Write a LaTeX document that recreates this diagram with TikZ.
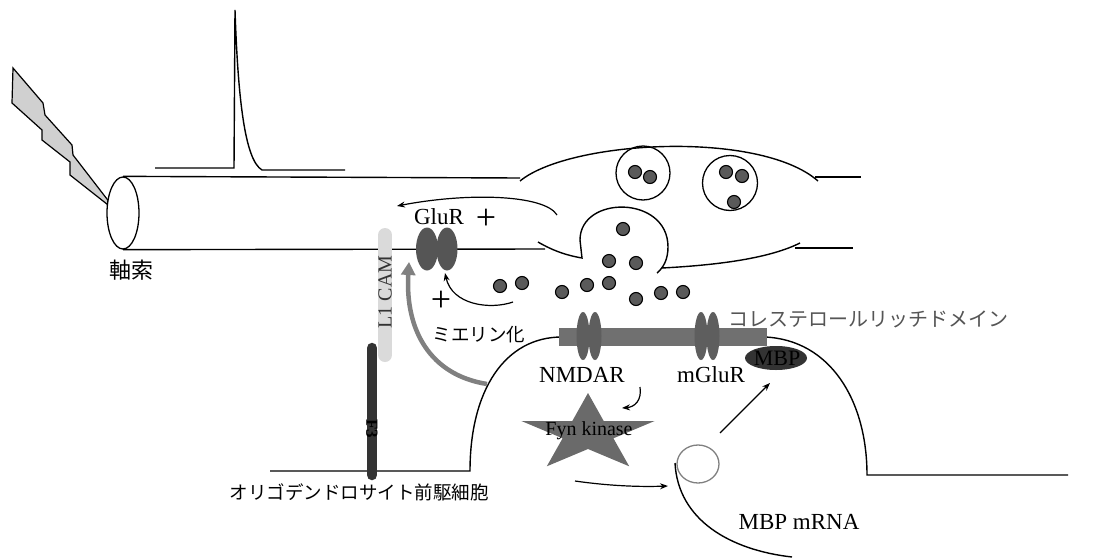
\documentclass[tikz,border=0pt]{standalone}
\usepackage{fontspec}
\usepackage{graphicx}
\setmainfont{Liberation Serif}
\newfontfamily\jpfont{Noto Sans CJK JP}
\usetikzlibrary{arrows.meta,shapes.geometric}

\definecolor{boltfill}{HTML}{D0D0D0}
\definecolor{raftgray}{HTML}{707070}
\definecolor{recgray}{HTML}{5E5E5E}
\definecolor{glurgray}{HTML}{555555}
\definecolor{darkgray}{HTML}{333333}
\definecolor{lightbar}{HTML}{DADADA}
\definecolor{dotgray}{HTML}{5A5A5A}
\definecolor{stargray}{HTML}{6A6A6A}
\definecolor{arrowgray}{HTML}{808080}
\definecolor{textgray}{HTML}{555555}

\begin{document}
\begin{tikzpicture}[x=1pt, y=-1pt, line width=1.3pt,
  membrane/.style={draw=black, line width=1.4pt},
  thinarrow/.style={draw=black, line width=1.2pt, -{Stealth[length=8pt,width=6pt]}},
  transmitter/.style={circle, draw=black, line width=1.1pt, fill=dotgray, minimum size=13pt, inner sep=0pt},
  receptor/.style={ellipse, fill=recgray, minimum width=13pt, minimum height=48pt, inner sep=0pt},
  label/.style={font=\fontsize{23}{25}\selectfont, inner sep=0pt},
  jplabel/.style={font=\jpfont\fontsize{18.5}{20}\selectfont, inner sep=0pt},
  plussign/.style={font=\fontsize{36}{36}\selectfont, inner sep=0pt}]
\useasboundingbox (0,0) rectangle (1095,557);

% stimulating electrode (lightning bolt)
\filldraw[fill=boltfill, draw=black, line width=1.2pt, line join=miter]
  (13,68) -- (43,103) -- (45,115) -- (72,145) -- (73,155) -- (117,212)
  -- (70,175) -- (70,162) -- (42,140) -- (42,130) -- (12,103) -- cycle;

% recorded action potential
\draw[line width=1.4pt] (155,168) -- (234,168) -- (235,10)
  .. controls (238,100) and (245,160) .. (262,170) -- (345,170);

% axon cylinder
\node[ellipse, draw=black, line width=1.3pt, fill=white, minimum width=32pt, minimum height=72pt, inner sep=0pt] (axonend) at (123,213) {};
\draw[membrane] (axonend.north) -- (520,178);
\draw[membrane] (axonend.south) -- (545,249);

% presynaptic bouton
\draw[membrane] (520,181) .. controls (570,140) and (760,130) .. (818,181);
\draw[membrane] (815,177) -- (861,177);
\draw[membrane] (538,242) .. controls (555,252) and (570,256) .. (582,258)
  -- (580,240) .. controls (580,195) and (668,195) .. (668,247)
  .. controls (668,260) and (663,268) .. (657,273);
\draw[membrane] (662,268) .. controls (720,265) and (770,258) .. (800,243);
\draw[membrane] (795,248) -- (853,248);

% synaptic vesicles
\node[circle, draw=black, line width=1.3pt, minimum size=54pt, inner sep=0pt] (ves1) at (643,173) {};
\node[circle, draw=black, line width=1.3pt, minimum size=55pt, inner sep=0pt] (ves2) at (730,183) {};
\foreach \p [count=\i] in {(635,172),(650,177),(726,172),(742,176),(734,202)}
  \node[transmitter] (vd\i) at \p {};

% released glutamate
\foreach \p [count=\i] in {(500,286),(522,283),(562,292),(587,285),(609,283),(609,261),(636,263),(623,229),(636,299),(661,293),(683,292)}
  \node[transmitter] (gl\i) at \p {};

% oligodendrocyte precursor membrane
\draw[membrane] (270,471) -- (470,471)
  .. controls (470,390) and (505,337) .. (562,337);
\draw[membrane] (765,337) .. controls (830,340) and (867,400) .. (867,475) -- (1068,475);

% cholesterol-rich domain with receptors
\fill[raftgray] (559,328) rectangle (767,346);
\node[receptor] (nmdarA) at (583,336) {};
\node[receptor] (nmdarB) at (595,336) {};
\node[receptor] (mglurA) at (701,336) {};
\node[receptor] (mglurB) at (713,336) {};
\node[ellipse, fill=darkgray, minimum width=62pt, minimum height=24pt, inner sep=0pt] (mbp) at (776,358) {};
\node[label, anchor=base, font=\fontsize{22}{24}\selectfont, text=black] (mbptext) at (777,365) {MBP};

% GluR on the axon
\node[ellipse, fill=glurgray, minimum width=22pt, minimum height=43pt, inner sep=0pt] (glurA) at (427,249) {};
\node[ellipse, fill=glurgray, minimum width=21pt, minimum height=43pt, inner sep=0pt] (glurB) at (447,249) {};

% L1CAM and F3
\draw[lightbar, line width=14pt, line cap=round] (385,235) -- (385,355);
\node[font=\fontsize{20}{22}\selectfont, text=darkgray, inner sep=0pt] (l1cam) at (385,292) {\rotatebox{90}{L1 CAM}};
\draw[darkgray, line width=10.5pt, line cap=round] (372,348) -- (372,475);
\node[font=\bfseries\fontsize{17}{19}\selectfont, text=black, inner sep=0pt] (f3) at (372,429) {\rotatebox{-90}{F3}};

% Fyn kinase star
\fill[stargray] (588,393) -- (603.7,421) -- (654.6,421) -- (613.4,438.3) -- (629.2,466.3)
  -- (588,449) -- (546.8,466.3) -- (562.6,438.3) -- (521.4,421) -- (572.3,421) -- cycle;
\node[label, anchor=base, font=\fontsize{20}{22}\selectfont] (fyn) at (589,435) {Fyn kinase};

% MBP mRNA granule
\node[ellipse, draw=arrowgray, line width=1.3pt, minimum width=42pt, minimum height=38pt, inner sep=0pt] (granule) at (698,464) {};
\draw[membrane] (675,463) .. controls (678,520) and (730,550) .. (792,557);

% text labels
\node[label, anchor=base] (glur) at (439,224) {GluR};
\node[label, anchor=base] (nmdar) at (582,382) {NMDAR};
\node[label, anchor=base] (mglur) at (711,382) {mGluR};
\node[label, anchor=base] (mrna) at (799,529) {MBP mRNA};
\node[plussign] (plusA) at (486,219) {+};
\node[plussign] (plusB) at (441,301) {+};
\node[jplabel, font=\jpfont\fontsize{22}{24}\selectfont] (axon) at (131,270) {軸索};
\node[jplabel] (myelin) at (479,335) {ミエリン化};
\node[jplabel, font=\jpfont\fontsize{20}{22}\selectfont, text=textgray, anchor=west] (raft) at (728,319) {コレステロールリッチドメイン};
\node[jplabel] (opc) at (359,492) {オリゴデンドロサイト前駆細胞};

% signalling arrows
\coordinate (boutonsrc) at (557,215);
\coordinate (glurtop) at (397,206);
\draw[thinarrow] (boutonsrc) .. controls (545,195) and (470,192) .. (glurtop);
\coordinate (glusrc) at (513,302);
\coordinate (glurfoot) at (445,273);
\draw[thinarrow] (glusrc) .. controls (490,310) and (452,305) .. (glurfoot);
\coordinate (myelsrc) at (487,384);
\coordinate (myeltip) at (409,262);
\draw[arrowgray, line width=4.5pt, -{Triangle[length=13pt,width=14pt]}]
  (myelsrc) .. controls (430,375) and (405,330) .. (myeltip);
\coordinate (nmdarout) at (640,387);
\coordinate (fyntop) at (622,408);
\draw[thinarrow] (nmdarout) .. controls (642,400) and (635,407) .. (fyntop);
\coordinate (fynout) at (575,481);
\coordinate (granin) at (668,486);
\draw[thinarrow] (fynout) .. controls (610,486) and (640,487) .. (granin);
\coordinate (granout) at (720,433);
\coordinate (mbpfoot) at (770,383);
\draw[thinarrow] (granout) -- (mbpfoot);
\end{tikzpicture}
\end{document}
